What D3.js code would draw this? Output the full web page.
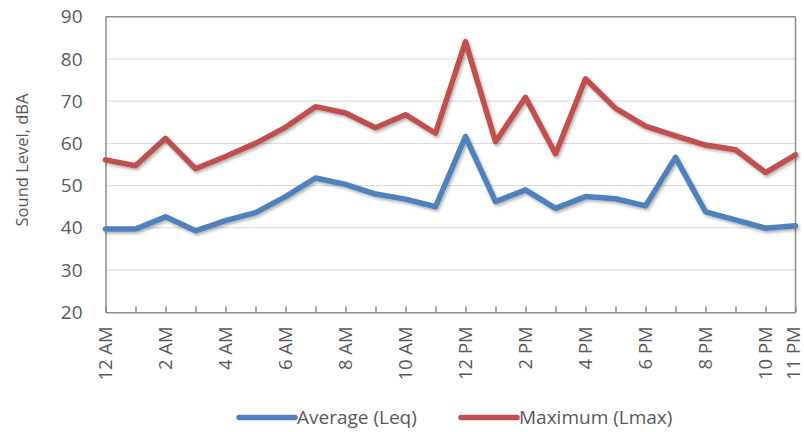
<!DOCTYPE html>
<html>
<head>
<meta charset="utf-8">
<script src="https://cdn.jsdelivr.net/npm/d3@7"></script>
<style>
  html, body { margin: 0; padding: 0; background: #fff; }
  svg { display: block; font-family: "Open Sans", sans-serif; }
</style>
</head>
<body>
<svg id="chart" width="804" height="432"></svg>
<script>
const hours = ["12 AM","1 AM","2 AM","3 AM","4 AM","5 AM","6 AM","7 AM","8 AM","9 AM","10 AM","11 AM",
               "12 PM","1 PM","2 PM","3 PM","4 PM","5 PM","6 PM","7 PM","8 PM","9 PM","10 PM","11 PM"];
const shownLabels = ["12 AM","2 AM","4 AM","6 AM","8 AM","10 AM","12 PM","2 PM","4 PM","6 PM","8 PM","10 PM","11 PM"];
const averageLeq = [39.7,39.7,42.6,39.3,41.7,43.6,47.4,51.8,50.3,48.0,46.8,45.0,
                    61.6,46.2,49.0,44.6,47.4,46.9,45.2,56.7,43.8,41.9,39.9,40.5];
const maximumLmax = [56.1,54.7,61.2,54.0,56.9,60.0,63.8,68.7,67.2,63.7,66.8,62.4,
                     84.1,60.4,70.9,57.5,75.3,68.3,64.1,61.8,59.6,58.5,53.1,57.3];
const yTicks = [20,30,40,50,60,70,80,90];
const seriesNames = ["Average (Leq)", "Maximum (Lmax)"];
const seriesColors = ["#4F81BD", "#C0504D"];

(function () {
const svg = d3.select("#chart");
const pL = 105.5, pR = 795.5, pT = 16.7, pB = 312.3;

const x = d3.scalePoint().domain(hours).range([pL, pR]);
const y = d3.scaleLinear().domain([20, 90]).range([pB, pT]);

const defs = svg.append("defs");
const f = defs.append("filter").attr("id", "shadow")
  .attr("x", "-10%").attr("y", "-10%").attr("width", "120%").attr("height", "130%");
f.append("feDropShadow").attr("dx", 1.5).attr("dy", 2).attr("stdDeviation", 1.5)
  .attr("flood-color", "#000").attr("flood-opacity", 0.3);

// gridlines
svg.append("g").selectAll("line").data(yTicks.filter(d => d > 20 && d < 90)).join("line")
  .attr("x1", pL).attr("x2", pR)
  .attr("y1", d => y(d)).attr("y2", d => y(d))
  .attr("stroke", "#D9D9D9").attr("stroke-width", 1);

// frame top/right
svg.append("line").attr("x1", pL).attr("x2", pR).attr("y1", pT).attr("y2", pT)
  .attr("stroke", "#8C8C8C").attr("stroke-width", 1.5);
svg.append("line").attr("x1", pR).attr("x2", pR).attr("y1", pT).attr("y2", pB)
  .attr("stroke", "#8C8C8C").attr("stroke-width", 1.5);

// y axis
const yAxis = svg.append("g").attr("transform", `translate(${pL},0)`)
  .call(d3.axisLeft(y).tickValues(yTicks).tickSize(0).tickPadding(23));
yAxis.select(".domain").attr("stroke", "#8C8C8C").attr("stroke-width", 1.5);
yAxis.selectAll("text").attr("fill", "#595959").style("font-size", "19px")
  .style("font-family", "Open Sans, sans-serif");

// x axis
const xAxis = svg.append("g").attr("transform", `translate(0,${pB})`)
  .call(d3.axisBottom(x).tickSizeInner(-6).tickSizeOuter(0).tickFormat(d => shownLabels.includes(d) ? d : ""));
xAxis.select(".domain").attr("stroke", "#8C8C8C").attr("stroke-width", 1.5);
xAxis.selectAll(".tick line").attr("stroke", "#8C8C8C").attr("stroke-width", 1.5);
xAxis.selectAll("text")
  .attr("fill", "#595959").style("font-size", "18.5px").style("font-family", "Open Sans, sans-serif")
  .attr("transform", "rotate(-90)")
  .attr("text-anchor", "end").attr("dy", "0.33em").attr("x", -14)
  .attr("y", d => d === hours[hours.length - 1] ? -2 : 0);

// y title
svg.append("text").attr("transform", "translate(22,160) rotate(-90)")
  .attr("text-anchor", "middle").attr("dy", "0.35em")
  .attr("fill", "#595959").style("font-size", "16.5px").text("Sound Level, dBA");

// lines
const line = d3.line().x((d, i) => x(hours[i])).y(d => y(d));
[averageLeq, maximumLmax].forEach((s, k) => {
  svg.append("path").datum(s).attr("d", line)
    .attr("fill", "none").attr("stroke", seriesColors[k]).attr("stroke-width", 5.5)
    .attr("stroke-linejoin", "round").attr("stroke-linecap", "round")
    .attr("filter", "url(#shadow)");
});

// legend
const legendX = [239, 461];
const lg = svg.append("g");
seriesNames.forEach((name, k) => {
  lg.append("line").attr("x1", legendX[k]).attr("x2", legendX[k] + 56)
    .attr("y1", 417.5).attr("y2", 417.5)
    .attr("stroke", seriesColors[k]).attr("stroke-width", 5.5).attr("stroke-linecap", "round");
  lg.append("text").attr("x", legendX[k] + 58).attr("y", 417.5).attr("dy", "0.35em")
    .attr("fill", "#595959").style("font-size", "19px").text(name);
});
})();
</script>
</body>
</html>
